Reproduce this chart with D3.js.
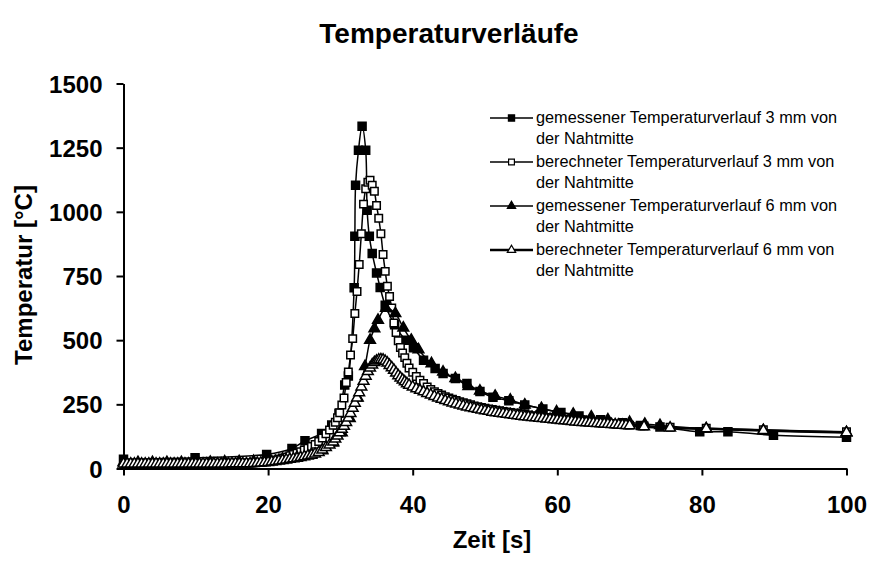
<!DOCTYPE html>
<html>
<head>
<meta charset="utf-8">
<script src="https://cdn.jsdelivr.net/npm/d3@7/dist/d3.min.js"></script>
<style>
  body { margin: 0; background: #fff; }
  svg { font-family: "Liberation Sans", Arial, sans-serif; }
</style>
</head>
<body>
<svg id="chart" width="870" height="561"></svg>
<script>
// time axis of the calculated curves (s)
const calcTime = [
  0,0.5,1,1.5,2,2.5,3,3.5,4,4.5,5,5.5,6,6.5,7,7.5,8,8.5,9,9.5,
  10,10.5,11,11.5,12,12.5,13,13.5,14,14.5,15,15.5,16,16.5,17,17.5,18,18.5,19,19.5,
  20,20.5,21,21.5,22,22.5,23,23.5,24,24.5,25,25.5,26,26.5,27,27.5,28,28.5,
  29,29.3,29.6,29.9,30.2,30.5,30.8,31.1,31.4,31.7,32,32.3,32.6,32.9,33.2,33.5,33.8,34.1,34.4,34.7,
  35,35.3,35.6,35.9,36.2,36.5,36.8,37.1,37.4,37.7,38,38.3,38.6,38.9,39.2,39.5,
  40,40.5,41,41.5,42,42.5,43,43.5,44,44.5,45,45.5,46,46.5,47,47.5,48,48.5,49,49.5,
  50,50.5,51,51.5,52,52.5,53,53.5,54,54.5,55,55.5,56,56.5,57,57.5,58,58.5,59,59.5,
  60,60.5,61,61.5,62,62.5,63,63.5,64,64.5,65,65.5,66,66.5,67,67.5,68,68.5,69,69.5,70,
  72,75.6,80.6,88.5,100
];
// berechnet 3 mm
const calc3 = [
  20,20,20,20,20,20,20,20,20,20,20,20,20,20,20,20,20,20,20,20,
  20,20,20,20,20,20,20,20,20,20,21,21,21,21,21,21,22,23,24,26,
  28,30,33,37,41,45,50,55,59,65,72,79,86,94,105,119,135,150,
  168,180,198,217,247,275,335,376,442,506,604,690,795,915,1030,1090,1115,1123,1104,1080,
  1025,975,915,834,768,710,670,625,567,530,498,471,450,432,410,392,
  375,358,344,331,318,308,299,292,286,280,275,270,265,260,256,252,248,244,241,238,
  235,232,230,227,225,222,220,218,216,214,212,210,208,206,204,203,201,199,198,196,
  195,193,192,190,189,187,186,185,183,182,181,179,178,177,176,175,173,172,171,170,169,
  166,161,157,151,143
];
// berechnet 6 mm
const calc6 = [
  18,18,18,18,18,18,18,18,18,18,18,18,18,18,18,18,18,18,18,18,
  18,18,18,18,18,18,18,18,18,18,19,19,19,19,19,19,20,21,22,23,
  24,26,28,30,32,34,36,38,40,43,46,49,52,57,63,72,82,92,
  104,115,127,140,153,165,180,197,215,235,255,275,296,318,340,360,378,392,404,413,
  419,423,424,423,418,411,402,393,383,372,362,353,345,338,331,325,
  318,311,305,299,293,287,281,275,270,265,260,256,252,248,244,240,237,234,231,228,
  225,223,220,218,216,214,212,210,208,206,204,202,201,199,198,196,195,193,192,190,
  189,187,186,185,184,182,181,180,179,178,177,176,175,174,173,172,171,170,169,168,167,
  163,158,155,148,140
];
// gemessen 3 mm
const measTime3 = [0,9.9,19.8,23.3,25.1,27.4,28.8,29.8,30.6,31.1,31.9,32,32.1,32.5,33,33.5,33.7,34,34.4,35,
  35.5,36.2,37.5,39,40.1,41.5,43.1,44.2,45.9,47.5,49.3,51.1,53.3,55.5,58,60.5,63,66,69,71.5,
  74.2,79.7,83.6,89.9,100];
const meas3 = [36,42,55,78,108,136,169,215,325,360,704,905,1104,1240,1333,1240,1006,905,838,762,
  705,636,560,500,470,422,390,370,351,331,300,278,264,247,232,218,205,190,178,168,
  162,143,143,130,122];
// gemessen 6 mm
const measTime6 = [0,2,4,6,8,10,12,14,16,18,20,22,24,26,27.5,29,30.2,31.3,32.4,33.4,
  34.1,34.7,35.2,36.3,37.6,38.7,39.8,40.8,42.6,44.2,45.9,47.7,49.3,51.4,53.5,55.5,57.8,59.9,62.2,64.7,
  67,70,72.1,74.2,80.6,88.5,100];
const meas6 = [24,24,24,24,24,25,25,26,27,28,30,36,44,56,70,100,140,195,275,398,
  500,545,578,625,604,548,500,463,409,376,351,320,302,282,267,248,234,221,212,201,
  190,180,173,168,155,148,140];

const xTicks = [0, 20, 40, 60, 80, 100];
const yTicks = [0, 250, 500, 750, 1000, 1250, 1500];
const legendLabels = [
  ['gemessener Temperaturverlauf 3 mm von', 'der Nahtmitte'],
  ['berechneter Temperaturverlauf 3 mm von', 'der Nahtmitte'],
  ['gemessener Temperaturverlauf 6 mm von', 'der Nahtmitte'],
  ['berechneter Temperaturverlauf 6 mm von', 'der Nahtmitte']
];

const series = [
  { t: measTime3, v: meas3, shape: d3.symbolSquare, size: 64, fill: '#000', lw: 1.5 },
  { t: calcTime, v: calc3, shape: d3.symbolSquare, size: 56, fill: '#fff', lw: 1.5 },
  { t: measTime6, v: meas6, shape: d3.symbolTriangle, size: 50, fill: '#000', lw: 1.5 },
  { t: calcTime, v: calc6, shape: d3.symbolTriangle, size: 50, fill: '#fff', lw: 2.5 }
];

const svg = d3.select('#chart');
const x = d3.scaleLinear().domain([0, 100]).range([123.5, 846.5]);
const y = d3.scaleLinear().domain([0, 1500]).range([468.5, 83.5]);

// axes
const xAxis = svg.append('g')
  .attr('transform', 'translate(0,468.5)')
  .call(d3.axisBottom(x).tickValues(xTicks).tickSize(7).tickSizeOuter(0).tickPadding(20.5));
const yAxis = svg.append('g')
  .attr('transform', 'translate(123.5,0)')
  .call(d3.axisLeft(y).tickValues(yTicks).tickFormat(d3.format('d'))
    .tickSize(7).tickSizeOuter(0).tickPadding(14));
[xAxis, yAxis].forEach(g => {
  g.select('.domain').attr('stroke', '#000').attr('stroke-width', 2);
  g.selectAll('.tick line').attr('stroke', '#000').attr('stroke-width', 2);
  g.selectAll('.tick text')
    .attr('fill', '#000')
    .style('font-size', '24px')
    .style('font-weight', 'bold')
    .style('font-family', '"Liberation Sans", Arial, sans-serif');
});
yAxis.selectAll('.tick text').attr('dy', '0.36em');

// series
const line = d3.line().curve(d3.curveCatmullRom.alpha(0.5));
series.forEach(s => {
  const pts = s.t.map((t, i) => [x(t), y(s.v[i])]);
  svg.append('path')
    .attr('d', line(pts))
    .attr('fill', 'none')
    .attr('stroke', '#000')
    .attr('stroke-width', s.lw);
  svg.append('g').selectAll('path')
    .data(pts)
    .enter().append('path')
    .attr('d', d3.symbol().type(s.shape).size(s.size))
    .attr('transform', d => `translate(${d[0]},${d[1]})`)
    .attr('fill', s.fill)
    .attr('stroke', '#000')
    .attr('stroke-width', 1.5);
});

// legend
const legend = svg.append('g').attr('transform', 'translate(490,0)');
series.forEach((s, i) => {
  const base = 123 + i * 44;
  const ly = base - 5;
  legend.append('line')
    .attr('x1', 0).attr('x2', 43).attr('y1', ly).attr('y2', ly)
    .attr('stroke', '#000').attr('stroke-width', s.lw);
  legend.append('path')
    .attr('d', d3.symbol().type(s.shape).size(s.size * 0.6))
    .attr('transform', `translate(21.5,${ly})`)
    .attr('fill', s.fill).attr('stroke', '#000').attr('stroke-width', 1.2);
  legendLabels[i].forEach((txt, j) => {
    legend.append('text')
      .attr('x', 46).attr('y', base + j * 21)
      .style('font-size', '16.3px')
      .text(txt);
  });
});

// titles
svg.append('text')
  .attr('x', 449).attr('y', 43)
  .attr('text-anchor', 'middle')
  .style('font-size', '28px').style('font-weight', 'bold')
  .text('Temperaturverläufe');
svg.append('text')
  .attr('x', 492).attr('y', 548)
  .attr('text-anchor', 'middle')
  .style('font-size', '24px').style('font-weight', 'bold')
  .text('Zeit [s]');
svg.append('text')
  .attr('transform', 'translate(32,275) rotate(-90)')
  .attr('text-anchor', 'middle')
  .style('font-size', '24px').style('font-weight', 'bold')
  .text('Temperatur [°C]');
</script>
</body>
</html>
